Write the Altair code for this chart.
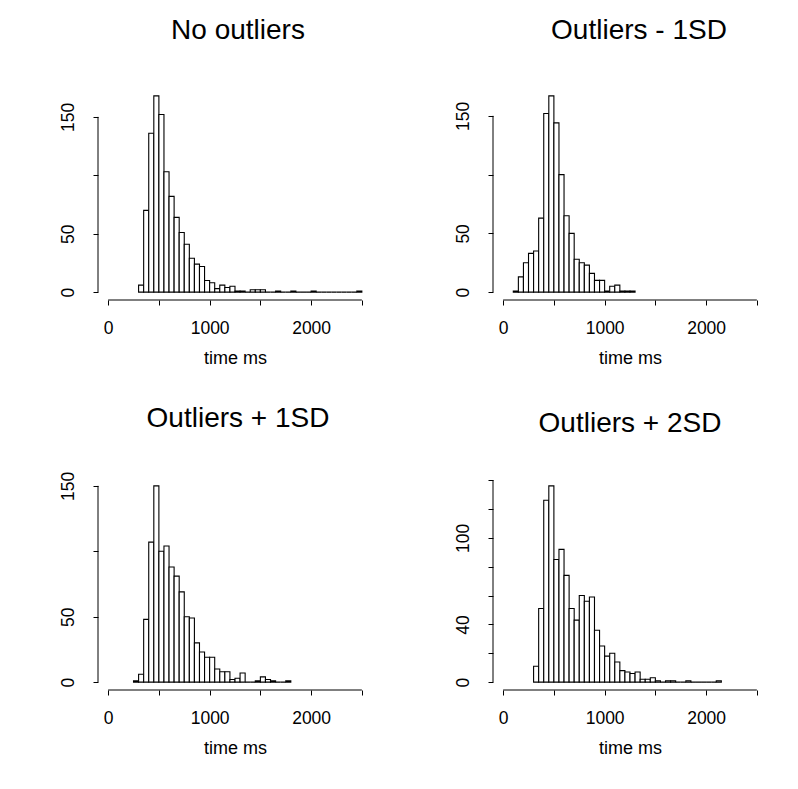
import altair as alt
import pandas as pd

BIN = 50
FONT = "Liberation Sans"

titles = ["No outliers", "Outliers - 1SD", "Outliers + 1SD", "Outliers + 2SD"]
bin_starts = [300, 100, 250, 300]

counts_no_outliers = [6, 70, 136, 168, 152, 103, 82, 64, 51, 41, 29, 24, 22, 10, 8, 3,
                      6, 4, 5, 1, 1, 0, 2, 2, 2, 0, 0, 1, 0, 0, 1, 0, 0, 0, 1, 0,
                      0, 0, 0, 0, 0, 0, 0, 1]
counts_minus_1sd = [1, 13, 25, 33, 35, 63, 152, 167, 144, 100, 65, 50, 28, 25, 23, 16,
                    10, 10, 1, 5, 6, 1, 1, 1]
counts_plus_1sd = [1, 6, 48, 107, 150, 100, 104, 88, 81, 69, 50, 49, 30, 23, 19, 19,
                   10, 8, 8, 2, 3, 7, 0, 0, 1, 4, 2, 1, 0, 0, 1]
counts_plus_2sd = [11, 51, 126, 136, 85, 92, 74, 51, 43, 60, 56, 59, 36, 25, 18, 20,
                   14, 8, 7, 6, 7, 2, 2, 3, 1, 0, 1, 1, 0, 0, 1, 0, 0, 0, 0, 0, 1]

x_lim = [0, 2500]
x_ticks = [0, 500, 1000, 1500, 2000, 2500]
x_labels = [0, 1000, 2000]
y_ticks_a = [0, 50, 100, 150]
y_labels_a = [0, 50, 150]
y_ticks_b = [0, 20, 40, 60, 80, 100, 120, 140]
y_labels_b = [0, 40, 100]

W, H = 274, 212
EXT = 0.04


def label_expr(shown):
    arr = ",".join(str(v) for v in shown)
    return f"indexof([{arr}], datum.value) >= 0 ? datum.label : ''"


def panel(title, start, counts, yticks, ylabels, title_offset, title_dx):
    n = len(counts)
    df = pd.DataFrame({"lo": [start + BIN * i for i in range(n)], "count": counts})
    df["hi"] = df["lo"] + BIN
    df["zero"] = 0
    xr = x_lim[1] - x_lim[0]
    xs = alt.Scale(domain=[x_lim[0] - EXT * xr, x_lim[1] + EXT * xr], nice=False, zero=False)
    m = max(counts)
    ys = alt.Scale(domain=[-EXT * m, m * (1 + EXT)], nice=False, zero=False)

    x_axis = alt.Axis(
        values=x_ticks, format="d", labelExpr=label_expr(x_labels),
        title="time ms", domain=False, grid=False, tickSize=5, tickColor="black",
        labelFont=FONT, labelFontSize=17.5, labelColor="black", labelPadding=14,
        titleFont=FONT, titleFontSize=18, titleFontWeight="normal", titleColor="black",
        titlePadding=13, labelFlush=False, labelOverlap=False)
    y_axis = alt.Axis(
        values=yticks, format="d", labelExpr=label_expr(ylabels), title=None,
        domain=False, grid=False, tickSize=5, tickColor="black", labelAngle=270,
        labelFont=FONT, labelFontSize=17.5, labelColor="black", labelPadding=16,
        labelFlush=False, labelOverlap=False)

    bars = alt.Chart(df).mark_rect(fill="white", stroke="black", strokeWidth=1.1).encode(
        x=alt.X("lo:Q", scale=xs, axis=x_axis),
        x2="hi:Q",
        y=alt.Y("zero:Q", scale=ys, axis=y_axis),
        y2="count:Q",
    )
    xaxis_df = pd.DataFrame({"lo": [x_ticks[0]], "hi": [x_ticks[-1]]})
    yaxis_df = pd.DataFrame({"zero": [yticks[0]], "count": [yticks[-1]]})
    xrule = alt.Chart(xaxis_df).mark_rule(color="black", strokeWidth=1).encode(
        x=alt.X("lo:Q", scale=xs, axis=x_axis), x2="hi:Q", y=alt.value(H))
    yrule = alt.Chart(yaxis_df).mark_rule(color="black", strokeWidth=1).encode(
        y=alt.Y("zero:Q", scale=ys, axis=y_axis), y2="count:Q", x=alt.value(0))
    return alt.layer(bars, xrule, yrule).properties(
        width=W, height=H,
        title=alt.TitleParams(title, font=FONT, fontSize=28, fontWeight="normal",
                              color="black", anchor="middle", frame="group",
                              baseline="alphabetic", offset=title_offset, dx=title_dx),
    )


p1 = panel(titles[0], bin_starts[0], counts_no_outliers, y_ticks_a, y_labels_a, 21, 3)
p2 = panel(titles[1], bin_starts[1], counts_minus_1sd, y_ticks_a, y_labels_a, 21, 9)
p3 = panel(titles[2], bin_starts[2], counts_plus_1sd, y_ticks_a, y_labels_a, 16, 3)
p4 = panel(titles[3], bin_starts[3], counts_plus_2sd, y_ticks_b, y_labels_b, 18, 0)

row1 = alt.hconcat(p1, p2, spacing=121, bounds="flush")
row2 = alt.hconcat(p3, p4, spacing=121, bounds="flush")
chart = alt.vconcat(row1, row2, spacing=390, bounds="flush").properties(
    padding={"left": 51, "top": 9, "right": 5, "bottom": 5},
    background="white",
).configure_view(stroke=None)

chart.save("out.html", embed_options={"renderer": "svg", "actions": False})
